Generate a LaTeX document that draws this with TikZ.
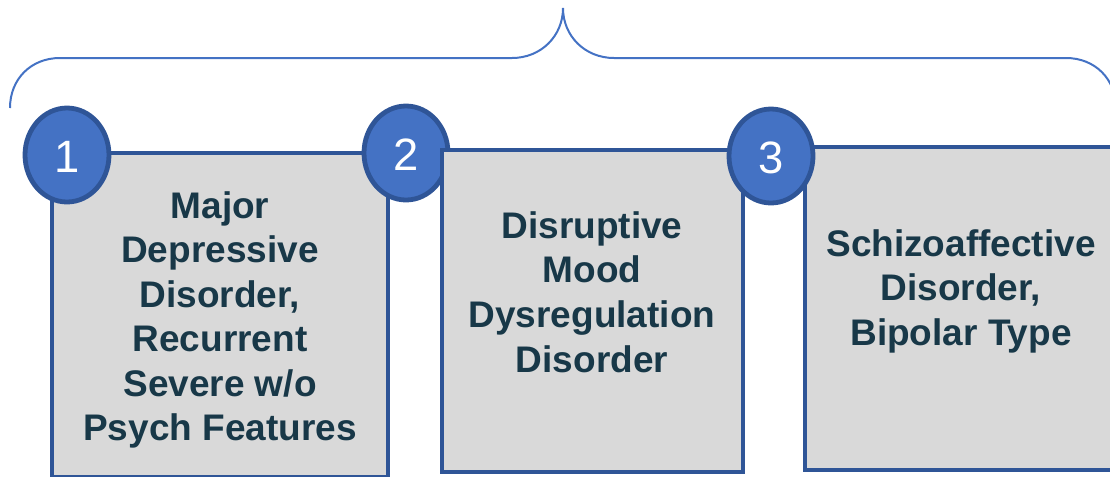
\documentclass[tikz,border=0pt]{standalone}
\usepackage{fontspec}
\setmainfont{Liberation Sans}
\usepackage{xcolor}
\usepackage{tikz}

\tikzset{
  dxbox/.style={draw={rgb, 255:red, 47; green, 85; blue, 151 }, fill={rgb, 255:red, 217; green, 217; blue, 217 }, line width=3.4pt},
  dxbadge/.style={draw={rgb, 255:red, 47; green, 85; blue, 151 }, fill={rgb, 255:red, 68; green, 114; blue, 196 }, line width=3.6pt},
  dxnum/.style={inner sep=0.75pt, font=\fontsize{34}{40}\selectfont, color=white, anchor=center},
  dxtext/.style={inner sep=0.75pt, font=\fontsize{27.75}{33.4}\selectfont\bfseries, color={rgb, 255:red, 24; green, 56; blue, 72 }, align=center, anchor=center}
}

\begin{document}
\begin{tikzpicture}[x=0.75pt,y=0.75pt,yscale=-1,xscale=1]
\useasboundingbox (0,0) rectangle (1110,476);

%Curve Lines (brace over the three boxes)
\draw [color={rgb, 255:red, 68; green, 114; blue, 196 }, line width=1.5pt]   (10,108) .. controls (10,79) and (31,58) .. (60,58) -- (512,58) .. controls (541,58) and (563,36) .. (563,8) .. controls (563,36) and (585,58) .. (614,58) -- (1066,58) .. controls (1095,58) and (1116,79) .. (1116,108) ;

%Shape: Rectangle
\draw [dxbox]  (52,153) rectangle (388,477) ;
%Shape: Ellipse
\draw [dxbadge]  (67,155) ellipse (42 and 47) ;
%Shape: Ellipse
\draw [dxbadge]  (406,153) ellipse (42 and 47) ;
%Shape: Rectangle
\draw [dxbox]  (442,150) rectangle (743,472) ;
%Shape: Rectangle
\draw [dxbox]  (805,147) rectangle (1117,470) ;
%Shape: Ellipse
\draw [dxbadge]  (771,156) ellipse (42 and 47) ;

% Text Node
\draw (67,157) node [dxnum] (numone) {1};
% Text Node
\draw (406,155) node [dxnum] (numtwo) {2};
% Text Node
\draw (771,158) node [dxnum] (numthree) {3};

% Text Node
\draw (220,320) node [dxtext] (mdd) {Major\\Depressive\\Disorder,\\Recurrent\\Severe w/o\\Psych Features};
% Text Node
\draw (592,292) node [dxtext] (dmdd) {Disruptive\\Mood\\Dysregulation\\Disorder};
% Text Node
\draw (961,291) node [dxtext] (sad) {Schizoaffective\\Disorder,\\Bipolar Type};

\end{tikzpicture}
\end{document}
